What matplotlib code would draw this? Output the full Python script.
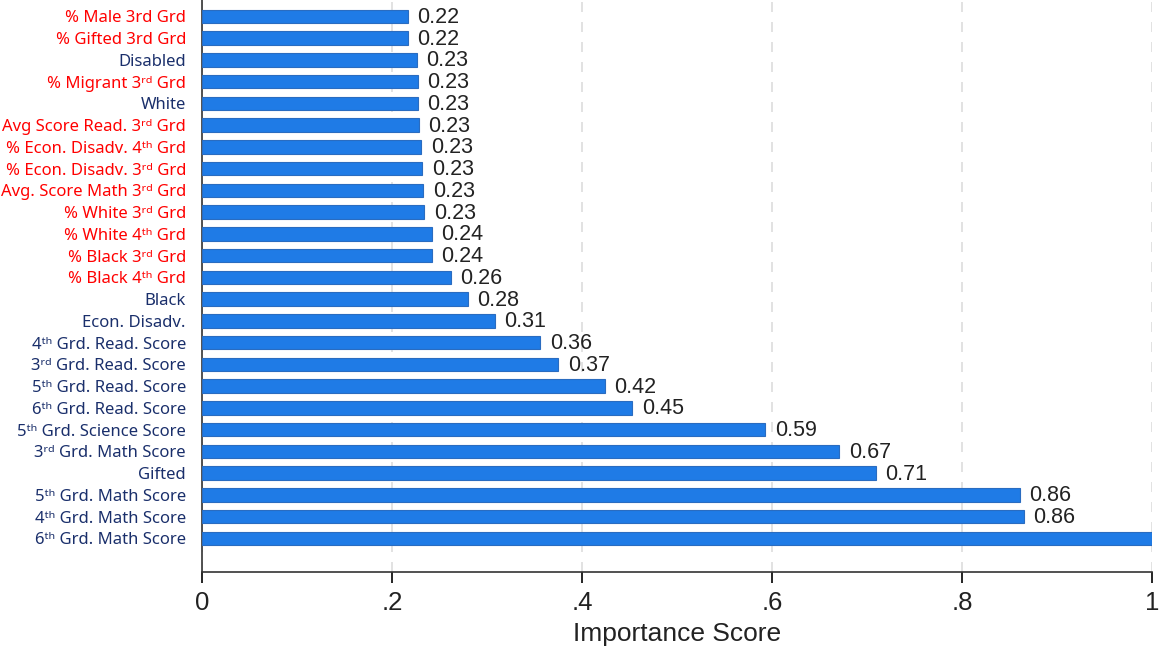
import matplotlib
matplotlib.use("Agg")
import matplotlib.pyplot as plt

RD = "\u02b3\u1d48"
TH = "\u1d57\u02b0"

# top to bottom as drawn
labels = [
    "% Male 3rd Grd", "% Gifted 3rd Grd", "Disabled", f"% Migrant 3{RD} Grd",
    "White", f"Avg Score Read. 3{RD} Grd", f"% Econ. Disadv. 4{TH} Grd",
    f"% Econ. Disadv. 3{RD} Grd", f"Avg. Score Math 3{RD} Grd",
    f"% White 3{RD} Grd", f"% White 4{TH} Grd",
    f"% Black 3{RD} Grd", f"% Black 4{TH} Grd", "Black", "Econ. Disadv.",
    f"4{TH} Grd. Read. Score", f"3{RD} Grd. Read. Score",
    f"5{TH} Grd. Read. Score", f"6{TH} Grd. Read. Score",
    f"5{TH} Grd. Science Score", f"3{RD} Grd. Math Score", "Gifted",
    f"5{TH} Grd. Math Score", f"4{TH} Grd. Math Score",
    f"6{TH} Grd. Math Score",
]
values = [0.217, 0.217, 0.226, 0.227, 0.227, 0.228, 0.231, 0.232, 0.233, 0.234,
          0.242, 0.242, 0.262, 0.280, 0.308, 0.356, 0.375, 0.424, 0.453, 0.593,
          0.671, 0.709, 0.861, 0.865, 1.0]
value_text = ["0.22", "0.22", "0.23", "0.23", "0.23", "0.23", "0.23", "0.23", "0.23", "0.23",
              "0.24", "0.24", "0.26", "0.28", "0.31", "0.36", "0.37", "0.42", "0.45", "0.59",
              "0.67", "0.71", "0.86", "0.86", ""]
red_rows = [0, 1, 3, 5, 6, 7, 8, 9, 10, 11, 12]
xticks = [0, 0.2, 0.4, 0.6, 0.8, 1.0]
xtick_labels = ["0", ".2", ".4", ".6", ".8", "1"]

fig = plt.figure(figsize=(11.6, 6.54), dpi=100)
ax = fig.add_axes([0.1741, 0.1254, 0.8190, 0.8746])

pos = list(range(len(labels)))
ax.barh(pos, values, height=0.62, color='#1f7be6', edgecolor='#2a6cc0', linewidth=0.8, zorder=3)
for p, v, t in zip(pos, values, value_text):
    if t:
        ax.text(v + 0.01, p + 0.05, t, va='center', ha='left', fontsize=15.5,
                family='Liberation Sans', color='#222222')

ax.set_ylim(len(labels) - 1 + 1.55, -0.75)
ax.set_xlim(0, 1.0)
ax.set_yticks(pos)
ax.set_yticklabels(labels, fontsize=12, family=['Noto Sans', 'DejaVu Sans'])
for i, lab in enumerate(ax.get_yticklabels()):
    lab.set_color('#ff0000' if i in red_rows else '#1a2f6b')
ax.tick_params(axis='y', length=0, pad=11.5)

ax.set_xticks(xticks)
ax.set_xticklabels(xtick_labels, fontsize=18.5, family='Liberation Sans', color='#222222')
ax.tick_params(axis='x', length=8, width=1.2, pad=6)
ax.set_xlabel("Importance Score", fontsize=19, family='Liberation Sans', color='#222222', labelpad=5)

ax.grid(axis='x', linestyle=(0, (6, 6)), color='#dddddd', linewidth=1.2, zorder=0)
ax.spines['top'].set_visible(False)
ax.spines['right'].set_visible(False)
ax.spines['left'].set_linewidth(1.2)
ax.spines['bottom'].set_linewidth(1.2)
ax.spines['left'].set_color('#333333')
ax.spines['bottom'].set_color('#333333')

fig.savefig("out.png", dpi=100)
